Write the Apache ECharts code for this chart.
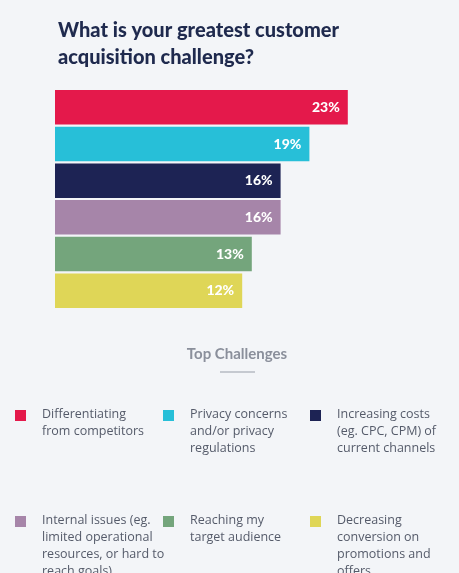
<!DOCTYPE html><html><head><meta charset="utf-8"><script src="https://cdn.jsdelivr.net/npm/echarts@6/dist/echarts.min.js"></script>
<style>html,body{margin:0;background:#f3f5f8}#c{width:459px;height:573px}</style></head><body><div id="c"></div><script>
const categories=["Differentiating\nfrom competitors","Privacy concerns\nand/or privacy\nregulations","Increasing costs\n(eg. CPC, CPM) of\ncurrent channels","Internal issues (eg.\nlimited operational\nresources, or hard to\nreach goals)","Reaching my\ntarget audience","Decreasing\nconversion on\npromotions and\noffers"];
const values=[23,19,16,16,13,12];
const colors=["#e4194b","#27bfd8","#1d2354","#a685a9","#74a57c","#dfd657"];
const base=7.5;
const c=echarts.init(document.getElementById('c'));
const legend=[];
const lx=[15,163,310], ly=[410,516];
categories.forEach((t,i)=>{const x=lx[i%3],y=ly[Math.floor(i/3)];
legend.push({type:'rect',shape:{x:x,y:y,width:11,height:11},style:{fill:colors[i]}});
legend.push({type:'text',x:x+27,y:y-4,style:{text:t,fill:'#555b6a',font:'12.5px "Open Sans"',lineHeight:17}});});
c.setOption({backgroundColor:'#f3f5f8',animation:false,
title:{text:'What is your greatest customer\nacquisition challenge?',left:53,top:12,textStyle:{color:'#1f2a4e',fontSize:20,fontWeight:900,fontFamily:'Lato',lineHeight:27}},
grid:{left:55,top:89,height:220,right:20},
xAxis:{type:'value',min:0,max:40,show:false},
yAxis:{type:'category',inverse:true,data:categories,show:false},
series:[{type:'bar',stack:'a',barCategoryGap:'6%',data:values.map((v,i)=>({value:base,itemStyle:{color:colors[i]}}))},
{type:'bar',stack:'a',data:values.map((v,i)=>({value:v,itemStyle:{color:colors[i]}})),label:{show:true,position:'insideRight',formatter:'{c}%',color:'#fff',fontWeight:900,fontSize:14,fontFamily:'Lato',distance:8}}],
graphic:[{type:'text',x:237,y:347,style:{text:'Top Challenges',align:'center',fill:'#8a8f9b',font:'bold 15px Lato'}},
{type:'rect',shape:{x:220,y:371,width:35,height:2},style:{fill:'#c5c9d0'}}].concat(legend)});
</script></body></html>
